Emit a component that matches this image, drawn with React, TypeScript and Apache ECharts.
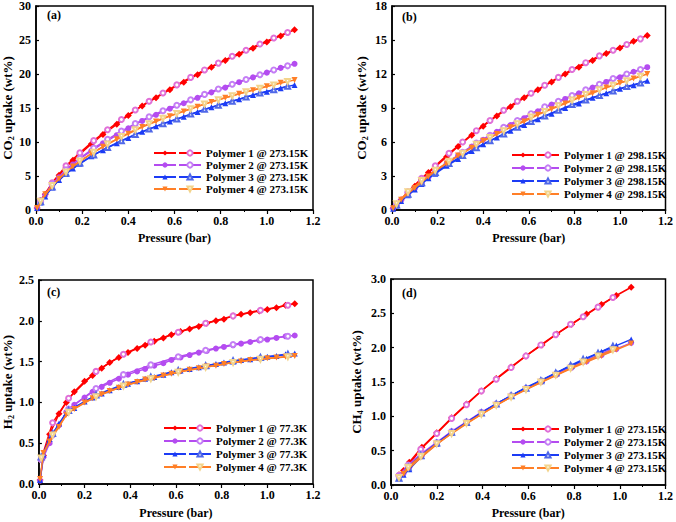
import React, { useEffect, useRef } from "react";
import * as echarts from "echarts";

// ---------- DATA ----------
// Panel (a): CO2 @ 273.15K
const A_ADS_P = [0.005, 0.02, 0.04, 0.07, 0.1, 0.13, 0.16, 0.19, 0.24, 0.29, 0.35, 0.4, 0.46, 0.52, 0.58, 0.64, 0.7, 0.76, 0.82, 0.88, 0.94, 1.0, 1.06, 1.12];
const A_DES_P = [1.09, 1.03, 0.97, 0.91, 0.85, 0.79, 0.73, 0.67, 0.61, 0.55, 0.49, 0.43, 0.37, 0.31, 0.25, 0.19, 0.13, 0.07, 0.02];
const A_P1_ADS = [0.3, 1.2, 2.3, 3.8, 5.1, 6.3, 7.3, 8.2, 9.7, 11.1, 12.6, 13.9, 15.3, 16.5, 17.7, 18.8, 19.9, 21.0, 22.0, 22.9, 23.8, 24.7, 25.6, 26.5];
const A_P1_DES = [26.1, 25.3, 24.4, 23.5, 22.6, 21.6, 20.6, 19.5, 18.4, 17.2, 16.0, 14.7, 13.3, 11.8, 10.2, 8.4, 6.5, 4.0, 1.4];
const A_P2_ADS = [0.3, 1.2, 2.2, 3.6, 4.8, 5.8, 6.7, 7.5, 8.7, 9.8, 11.0, 12.0, 13.1, 14.0, 14.9, 15.7, 16.5, 17.3, 18.0, 18.8, 19.5, 20.2, 20.9, 21.5];
const A_P2_DES = [21.2, 20.6, 19.9, 19.2, 18.5, 17.8, 17.0, 16.2, 15.4, 14.6, 13.7, 12.7, 11.6, 10.4, 9.1, 7.6, 5.9, 3.8, 1.3];
const A_P3_ADS = [0.3, 1.1, 2.0, 3.3, 4.4, 5.3, 6.1, 6.8, 7.9, 8.8, 9.8, 10.6, 11.5, 12.3, 13.0, 13.7, 14.4, 15.1, 15.7, 16.3, 16.9, 17.4, 17.9, 18.4];
const A_P3_DES = [18.2, 17.7, 17.2, 16.6, 16.0, 15.4, 14.8, 14.1, 13.4, 12.7, 11.9, 11.1, 10.2, 9.2, 8.1, 6.9, 5.4, 3.4, 1.2];
const A_P4_ADS = [0.3, 1.2, 2.3, 3.5, 4.6, 5.6, 6.4, 7.1, 8.3, 9.3, 10.4, 11.2, 12.2, 13.0, 13.8, 14.5, 15.2, 15.9, 16.5, 17.1, 17.6, 18.2, 18.7, 19.1];
const A_P4_DES = [18.9, 18.4, 17.9, 17.4, 16.8, 16.2, 15.6, 14.9, 14.2, 13.5, 12.7, 11.8, 10.8, 9.7, 8.5, 7.2, 5.6, 3.6, 1.3];

// Panel (b): CO2 @ 298.15K
const B_ADS_P = [0.005, 0.02, 0.04, 0.07, 0.1, 0.13, 0.16, 0.19, 0.24, 0.29, 0.35, 0.4, 0.46, 0.52, 0.58, 0.64, 0.7, 0.76, 0.82, 0.88, 0.94, 1.0, 1.06, 1.12];
const B_DES_P = [1.09, 1.03, 0.97, 0.91, 0.85, 0.79, 0.73, 0.67, 0.61, 0.55, 0.49, 0.43, 0.37, 0.31, 0.25, 0.19, 0.13, 0.07, 0.02];
const B_P1_ADS = [0.15, 0.5, 0.9, 1.5, 2.1, 2.7, 3.3, 3.8, 4.7, 5.6, 6.6, 7.4, 8.3, 9.1, 9.9, 10.6, 11.3, 12.0, 12.6, 13.2, 13.8, 14.3, 14.9, 15.4];
const B_P1_DES = [15.1, 14.6, 14.1, 13.6, 13.0, 12.4, 11.7, 11.0, 10.3, 9.6, 8.8, 7.9, 7.0, 6.0, 5.0, 3.9, 2.8, 1.6, 0.5];
const B_P2_ADS = [0.15, 0.45, 0.85, 1.4, 1.9, 2.4, 2.9, 3.4, 4.1, 4.8, 5.6, 6.2, 6.9, 7.5, 8.1, 8.7, 9.3, 9.8, 10.3, 10.8, 11.3, 11.7, 12.2, 12.6];
const B_P2_DES = [12.4, 12.0, 11.6, 11.1, 10.6, 10.1, 9.6, 9.1, 8.5, 7.9, 7.3, 6.6, 5.9, 5.1, 4.3, 3.4, 2.5, 1.5, 0.5];
const B_P3_ADS = [0.12, 0.4, 0.8, 1.3, 1.8, 2.3, 2.8, 3.2, 3.9, 4.5, 5.2, 5.8, 6.4, 7.0, 7.5, 8.0, 8.5, 9.0, 9.4, 9.9, 10.3, 10.7, 11.0, 11.4];
const B_P3_DES = [11.2, 10.9, 10.5, 10.1, 9.7, 9.3, 8.8, 8.3, 7.8, 7.3, 6.7, 6.1, 5.5, 4.8, 4.1, 3.3, 2.4, 1.4, 0.45];
const B_P4_ADS = [0.15, 0.5, 0.9, 1.45, 1.95, 2.45, 2.95, 3.45, 4.1, 4.8, 5.5, 6.1, 6.7, 7.3, 7.8, 8.4, 8.9, 9.4, 9.9, 10.3, 10.8, 11.2, 11.6, 12.0];
const B_P4_DES = [11.8, 11.4, 11.0, 10.6, 10.2, 9.7, 9.2, 8.7, 8.2, 7.6, 7.0, 6.4, 5.8, 5.0, 4.3, 3.5, 2.6, 1.6, 0.55];

// Panel (c): H2 @ 77.3K
const C_ADS_P = [0.005, 0.02, 0.047, 0.088, 0.12, 0.155, 0.2, 0.235, 0.275, 0.31, 0.35, 0.39, 0.43, 0.465, 0.505, 0.545, 0.58, 0.62, 0.66, 0.7, 0.735, 0.775, 0.81, 0.85, 0.885, 0.925, 0.965, 1.0, 1.04, 1.08, 1.12];
const C_DES_P = [1.09, 0.97, 0.85, 0.73, 0.61, 0.49, 0.37, 0.25, 0.13, 0.06, 0.01];
const C_P1_ADS = [0.05, 0.35, 0.61, 0.86, 1.0, 1.13, 1.26, 1.33, 1.42, 1.49, 1.55, 1.61, 1.66, 1.7, 1.75, 1.79, 1.83, 1.87, 1.9, 1.93, 1.97, 2.0, 2.02, 2.06, 2.08, 2.1, 2.12, 2.14, 2.16, 2.19, 2.21];
const C_P1_DES = [2.19, 2.13, 2.06, 1.97, 1.86, 1.74, 1.59, 1.38, 1.05, 0.75, 0.3];
const C_P2_ADS = [0.04, 0.33, 0.5, 0.72, 0.88, 0.97, 1.06, 1.13, 1.19, 1.24, 1.29, 1.34, 1.38, 1.41, 1.45, 1.48, 1.52, 1.55, 1.58, 1.61, 1.63, 1.66, 1.68, 1.7, 1.72, 1.74, 1.76, 1.77, 1.79, 1.81, 1.82];
const C_P2_DES = [1.81, 1.77, 1.71, 1.64, 1.56, 1.46, 1.34, 1.17, 0.92, 0.6, 0.3];
const C_P3_ADS = [0.05, 0.36, 0.55, 0.74, 0.87, 0.93, 1.01, 1.06, 1.11, 1.15, 1.19, 1.23, 1.26, 1.29, 1.31, 1.34, 1.37, 1.39, 1.41, 1.43, 1.45, 1.47, 1.49, 1.5, 1.52, 1.53, 1.55, 1.56, 1.57, 1.59, 1.6];
const C_P3_DES = [1.59, 1.55, 1.51, 1.45, 1.39, 1.31, 1.22, 1.09, 0.9, 0.62, 0.33];
const C_P4_ADS = [0.06, 0.38, 0.52, 0.7, 0.85, 0.92, 1.0, 1.05, 1.1, 1.14, 1.18, 1.22, 1.25, 1.28, 1.3, 1.33, 1.35, 1.38, 1.4, 1.42, 1.44, 1.45, 1.47, 1.49, 1.5, 1.52, 1.53, 1.54, 1.55, 1.56, 1.57];
const C_P4_DES = [1.56, 1.53, 1.49, 1.43, 1.37, 1.29, 1.2, 1.07, 0.88, 0.6, 0.32];

// Panel (d): CH4 @ 273.15K
const D_ADS_P = [0.035, 0.055, 0.08, 0.135, 0.2, 0.265, 0.33, 0.395, 0.46, 0.525, 0.59, 0.66, 0.725, 0.79, 0.855, 0.92, 0.985, 1.05];
const D_DES_P = [0.97, 0.905, 0.84, 0.785, 0.72, 0.655, 0.59, 0.525, 0.46, 0.395, 0.33, 0.265, 0.2, 0.13, 0.075, 0.035];
const D_P1_ADS = [0.15, 0.21, 0.33, 0.55, 0.76, 0.98, 1.18, 1.37, 1.55, 1.72, 1.88, 2.04, 2.2, 2.34, 2.49, 2.63, 2.76, 2.88];
const D_P1_DES = [2.73, 2.59, 2.45, 2.34, 2.19, 2.04, 1.88, 1.71, 1.54, 1.37, 1.17, 0.97, 0.75, 0.52, 0.28, 0.14];
const D_P2_ADS = [0.12, 0.17, 0.26, 0.43, 0.61, 0.77, 0.91, 1.05, 1.17, 1.29, 1.4, 1.51, 1.61, 1.71, 1.8, 1.89, 1.98, 2.07];
const D_P2_DES = [1.99, 1.89, 1.8, 1.72, 1.61, 1.51, 1.41, 1.3, 1.18, 1.06, 0.92, 0.78, 0.62, 0.45, 0.29, 0.13];
const D_P3_ADS = [0.1, 0.15, 0.23, 0.42, 0.6, 0.76, 0.91, 1.05, 1.18, 1.3, 1.42, 1.53, 1.64, 1.74, 1.84, 1.94, 2.03, 2.12];
const D_P3_DES = [2.02, 1.92, 1.83, 1.74, 1.63, 1.52, 1.41, 1.3, 1.18, 1.05, 0.91, 0.77, 0.61, 0.43, 0.26, 0.1];
const D_P4_ADS = [0.11, 0.16, 0.25, 0.41, 0.59, 0.75, 0.89, 1.03, 1.16, 1.28, 1.39, 1.5, 1.6, 1.7, 1.79, 1.88, 1.97, 2.06];
const D_P4_DES = [1.97, 1.88, 1.79, 1.7, 1.6, 1.5, 1.39, 1.28, 1.16, 1.03, 0.9, 0.75, 0.6, 0.42, 0.26, 0.11];

const X_TICKS = [0, 0.2, 0.4, 0.6, 0.8, 1.0, 1.2];
const POLYMERS = ["Polymer 1", "Polymer 2", "Polymer 3", "Polymer 4"];
const PANEL_LABELS = ["(a)", "(b)", "(c)", "(d)"];
const TEMPS = ["273.15K", "298.15K", "77.3K", "273.15K"];
const GASES = [["CO", "2"], ["CO", "2"], ["H", "2"], ["CH", "4"]];
const Y_MAX = [30, 18, 2.5, 3.0];
const Y_STEP = [5, 3, 0.5, 0.5];
const Y_DECIMALS = [0, 0, 1, 1];

const PANEL_DATA = [
  { adsP: A_ADS_P, desP: A_DES_P, ads: [A_P1_ADS, A_P2_ADS, A_P3_ADS, A_P4_ADS], des: [A_P1_DES, A_P2_DES, A_P3_DES, A_P4_DES] },
  { adsP: B_ADS_P, desP: B_DES_P, ads: [B_P1_ADS, B_P2_ADS, B_P3_ADS, B_P4_ADS], des: [B_P1_DES, B_P2_DES, B_P3_DES, B_P4_DES] },
  { adsP: C_ADS_P, desP: C_DES_P, ads: [C_P1_ADS, C_P2_ADS, C_P3_ADS, C_P4_ADS], des: [C_P1_DES, C_P2_DES, C_P3_DES, C_P4_DES] },
  { adsP: D_ADS_P, desP: D_DES_P, ads: [D_P1_ADS, D_P2_ADS, D_P3_ADS, D_P4_ADS], des: [D_P1_DES, D_P2_DES, D_P3_DES, D_P4_DES] },
];

// ---------- STYLE ----------
const FONT = '"Liberation Serif", "Times New Roman", serif';
const COLORS = ["#ff0000", "#b44cf0", "#1c3cf5", "#ff7f27"];
const DES_COLORS = ["#e070d8", "#c47ef5", "#5068e8", "#f3d48c"];
const ADS_SYMBOLS = ["diamond", "circle", "triangle", "triangle"];
const DES_SYMBOLS = ["emptyCircle", "emptyCircle", "emptyTriangle", "emptyTriangle"];
const ROTATE = [0, 0, 0, 180];

const LAYOUT = [
  { grid: { left: 36, top: 5, width: 277, height: 205 }, yGap: 21, xGap: 22, leg: { left: 153, top: 147, gap: 0 }, lab: { x: 47, y: 9 } },
  { grid: { left: 392, top: 6, width: 276, height: 204 }, yGap: 23, xGap: 22, leg: { left: 511, top: 149, gap: 1 }, lab: { x: 402, y: 11 } },
  { grid: { left: 36, top: 280, width: 277, height: 204 }, yGap: 22, xGap: 23, leg: { left: 163, top: 422, gap: 1 }, lab: { x: 47, y: 286 } },
  { grid: { left: 391, top: 279, width: 277, height: 206 }, yGap: 27, xGap: 22, leg: { left: 511, top: 423, gap: 1 }, lab: { x: 402, y: 287 } },
];

const zip = (xs: number[], ys: number[]) => xs.map((x, i) => [x, ys[i]]);

function buildOption() {
  const grid: any[] = [];
  const xAxis: any[] = [];
  const yAxis: any[] = [];
  const series: any[] = [];
  const legend: any[] = [];
  const graphic: any[] = [];
  const labelMap: Record<string, string> = {};

  const axisText = { fontFamily: FONT, fontWeight: "bold", fontSize: 12, color: "#000" };
  const legendText = { fontFamily: FONT, fontWeight: "bold", fontSize: 11, color: "#000", lineHeight: 12 };

  LAYOUT.forEach((L, i) => {
    grid.push({ ...L.grid, show: true, borderColor: "#000", borderWidth: 1.5, backgroundColor: "#fff" });
    xAxis.push({
      type: "value", gridIndex: i, min: 0, max: 1.2, interval: 0.2,
      name: "Pressure (bar)", nameLocation: "middle", nameGap: L.xGap,
      nameTextStyle: { ...axisText },
      axisLine: { show: true, onZero: false, lineStyle: { color: "#000", width: 1.5 } },
      axisTick: { show: true, inside: false, length: 4, lineStyle: { color: "#000", width: 1.2 } },
      minorTick: { show: true, splitNumber: 2, length: 2, lineStyle: { color: "#000", width: 1 } },
      splitLine: { show: false },
      axisLabel: { ...axisText, margin: 5, formatter: (v: number) => (X_TICKS.includes(+v.toFixed(1)) ? v.toFixed(1) : "") },
    });
    const g = GASES[i];
    yAxis.push({
      type: "value", gridIndex: i, min: 0, max: Y_MAX[i], interval: Y_STEP[i],
      name: `{t|${g[0]}}{s|${g[1]}}{t| uptake (wt%)}`, nameLocation: "middle", nameGap: L.yGap,
      nameTextStyle: {
        rich: {
          t: { ...axisText, fontSize: 13, lineHeight: 15 },
          s: { ...axisText, fontSize: 8, lineHeight: 10, verticalAlign: "bottom" },
        },
      },
      axisLine: { show: true, onZero: false, lineStyle: { color: "#000", width: 1.5 } },
      axisTick: { show: true, inside: true, length: 3, lineStyle: { color: "#000", width: 1.2 } },
      minorTick: { show: false },
      splitLine: { show: false },
      axisLabel: { ...axisText, margin: 5, formatter: (v: number) => v.toFixed(Y_DECIMALS[i]) },
    });

    const D = PANEL_DATA[i];
    const adsNames: string[] = [];
    const desNames: string[] = [];
    POLYMERS.forEach((p, k) => {
      const an = `${i}-${k}-ads`;
      const dn = `${i}-${k}-des`;
      adsNames.push(an);
      desNames.push(dn);
      labelMap[dn] = `${p} @ ${TEMPS[i]}`;
      series.push({
        type: "line", name: an, xAxisIndex: i, yAxisIndex: i,
        data: zip(D.adsP, D.ads[k]),
        symbol: ADS_SYMBOLS[k], symbolRotate: ROTATE[k], symbolSize: k === 0 ? 7 : 6,
        lineStyle: { color: COLORS[k], width: 1.5 },
        itemStyle: { color: COLORS[k] },
        z: 2 + k,
      });
      series.push({
        type: "line", name: dn, xAxisIndex: i, yAxisIndex: i,
        data: zip(D.desP, D.des[k]),
        symbol: DES_SYMBOLS[k], symbolRotate: ROTATE[k], symbolSize: 5,
        lineStyle: { color: COLORS[k], width: 1.5 },
        itemStyle: { color: DES_COLORS[k], borderWidth: 1 },
        z: 2 + k,
      });
    });

    legend.push({
      orient: "vertical", left: L.leg.left, top: L.leg.top, itemGap: L.leg.gap,
      itemWidth: 22, itemHeight: 6.5, selectedMode: false, padding: 0,
      data: adsNames, formatter: () => " ",
      textStyle: legendText,
    });
    legend.push({
      orient: "vertical", left: L.leg.left + 25, top: L.leg.top, itemGap: L.leg.gap,
      itemWidth: 22, itemHeight: 6.5, selectedMode: false, padding: 0,
      data: desNames, formatter: (n: string) => labelMap[n],
      textStyle: legendText,
      itemStyle: { borderWidth: 1 },
    });

    graphic.push({
      type: "text", left: L.lab.x, top: L.lab.y, z: 100,
      style: { text: PANEL_LABELS[i], font: `bold 12px ${FONT}`, fill: "#000" },
    });
  });

  return { animation: false, backgroundColor: "#fff", grid, xAxis, yAxis, series, legend, graphic };
}

export default function App() {
  const ref = useRef<HTMLDivElement>(null);
  useEffect(() => {
    if (!ref.current) return;
    const chart = echarts.init(ref.current, undefined, { renderer: "svg" });
    chart.setOption(buildOption() as any);
    return () => chart.dispose();
  }, []);
  return <div ref={ref} style={{ position: "fixed", left: 0, top: 0, width: 676, height: 522, background: "#fff" }} />;
}
